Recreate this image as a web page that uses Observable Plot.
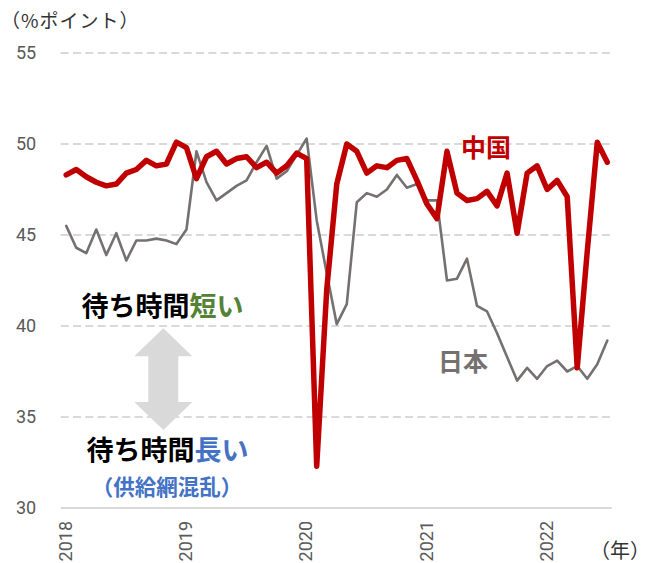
<!DOCTYPE html>
<html>
<head>
<meta charset="utf-8">
<script src="https://cdn.jsdelivr.net/npm/d3@7"></script>
<script src="https://cdn.jsdelivr.net/npm/@observablehq/plot@0.6"></script>
<style>
  body { margin: 0; background: #fff; }
  #wrap { position: relative; width: 653px; height: 563px; overflow: hidden; }
  #chart { position: absolute; left: 0; top: 0; }
  .ov { position: absolute; font-family: "Noto Sans CJK JP", sans-serif; white-space: nowrap; line-height: 1; }
  #title { left: 1px; top: 10px; font-size: 19px; letter-spacing: 1px; color: #333; }
  #unit { left: 590px; top: 540px; font-size: 20px; color: #333; }
</style>
</head>
<body>
<div id="wrap">
  <div id="chart"></div>
  <div class="ov" id="title">（%ポイント）</div>
  <div class="ov" id="unit">（年）</div>
</div>
<script>
// Monthly values, Jan 2018 – Jul 2022 (supplier delivery times index)
const yearLabels = ["2018", "2019", "2020", "2021", "2022"];
const china = [
  48.3, 48.6, 48.2, 47.9, 47.7, 47.8, 48.4, 48.6, 49.1, 48.8, 48.9, 50.1,
  49.8, 48.1, 49.3, 49.6, 48.9, 49.2, 49.3, 48.7, 49.0, 48.4, 48.8, 49.5,
  49.2, 32.3, 42.0, 47.8, 50.0, 49.6, 48.4, 48.8, 48.7, 49.1, 49.2, 48.0,
  46.7, 45.9, 49.6, 47.3, 46.9, 47.0, 47.4, 46.6, 48.4, 45.1, 48.4, 48.8,
  47.5, 48.0, 47.1, 37.7, 44.1, 50.1, 49.0
];
const japan = [
  45.5, 44.3, 44.0, 45.3, 43.9, 45.1, 43.6, 44.7, 44.7, 44.8, 44.7, 44.5,
  45.3, 49.6, 47.9, 46.9, 47.3, 47.7, 48.0, 49.0, 49.9, 48.1, 48.5, 49.4,
  50.3, 45.8, 42.9, 40.1, 41.2, 46.8, 47.3, 47.1, 47.5, 48.3, 47.6, 47.8,
  46.9, 46.9, 42.5, 42.6, 43.7, 41.1, 40.8, 39.6, 38.3, 37.0, 37.7, 37.1,
  37.8, 38.1, 37.5, 37.8, 37.1, 37.9, 39.2
];
const yTicks = [30, 35, 40, 45, 50, 55];
const xTicks = [0, 12, 24, 36, 48];

// double-headed arrow annotation (month index, top value, bottom value)
const arrowMonth = 9.74, arrowTop = 39.85, arrowBottom = 34.26;

const cjk = "'Noto Sans CJK JP', sans-serif";

function arrowMark(index, scales) {
  const cx = scales.x(arrowMonth), y1 = scales.y(arrowTop), y2 = scales.y(arrowBottom);
  const hw = 29, sw = 15, hh = 28;
  const pts = [[cx, y1], [cx + hw, y1 + hh], [cx + sw, y1 + hh], [cx + sw, y2 - hh], [cx + hw, y2 - hh],
               [cx, y2], [cx - hw, y2 - hh], [cx - sw, y2 - hh], [cx - sw, y1 + hh], [cx - hw, y1 + hh]];
  const p = document.createElementNS("http://www.w3.org/2000/svg", "path");
  p.setAttribute("d", "M" + pts.map(q => q.join(",")).join("L") + "Z");
  p.setAttribute("fill", "#d9d9d9");
  return p;
}

const chart = Plot.plot({
  width: 653,
  height: 563,
  marginLeft: 60.7,
  marginRight: 41.2,
  marginTop: 52.5,
  marginBottom: 55.5,
  style: { fontFamily: "Roboto, 'Liberation Sans', sans-serif", fontSize: "18px", color: "#595959", background: "#fff" },
  x: {
    domain: [-0.5, 54.5],
    ticks: xTicks,
    tickFormat: i => yearLabels[i / 12],
    tickRotate: -90,
    tickSize: 0,
    tickPadding: 13,
    label: null
  },
  y: {
    domain: [30, 55],
    ticks: yTicks,
    tickSize: 0,
    tickPadding: 25,
    label: null
  },
  marks: [
    Plot.ruleY(yTicks.filter(v => v > 30), { stroke: "#d9d9d9", strokeWidth: 2, strokeDasharray: "8,4.3" }),
    Plot.ruleY([30], { stroke: "#d9d9d9", strokeWidth: 2 }),
    arrowMark,
    Plot.line(japan, { x: (d, i) => i, y: d => d, stroke: "#767171", strokeWidth: 2.6, strokeLinejoin: "round" }),
    Plot.line(china, { x: (d, i) => i, y: d => d, stroke: "#C00000", strokeWidth: 5.5, strokeLinejoin: "round" }),
    Plot.text(["中国"], { x: [41.9], y: [49.74], text: d => d, fill: "#C00000", fontSize: 25, fontWeight: "bold", fontFamily: cjk }),
    Plot.text(["日本"], { x: [39.6], y: [37.97], text: d => d, fill: "#767171", fontSize: 25, fontWeight: "bold", fontFamily: cjk }),
    Plot.text(["待ち時間"], { x: [12.3], y: [41.0], text: d => d, textAnchor: "end", fill: "#000", fontSize: 27, fontWeight: "bold", fontFamily: cjk }),
    Plot.text(["短い"], { x: [12.3], y: [41.0], text: d => d, textAnchor: "start", fill: "#548235", fontSize: 27, fontWeight: "bold", fontFamily: cjk }),
    Plot.text(["待ち時間"], { x: [12.8], y: [33.12], text: d => d, textAnchor: "end", fill: "#000", fontSize: 27, fontWeight: "bold", fontFamily: cjk }),
    Plot.text(["長い"], { x: [12.8], y: [33.12], text: d => d, textAnchor: "start", fill: "#4472C4", fontSize: 27, fontWeight: "bold", fontFamily: cjk }),
    Plot.text(["（供給網混乱）"], { x: [10.07], y: [31.12], text: d => d, fill: "#4472C4", fontSize: 21.5, fontWeight: "bold", fontFamily: cjk })
  ]
});
document.getElementById("chart").appendChild(chart);
</script>
</body>
</html>
